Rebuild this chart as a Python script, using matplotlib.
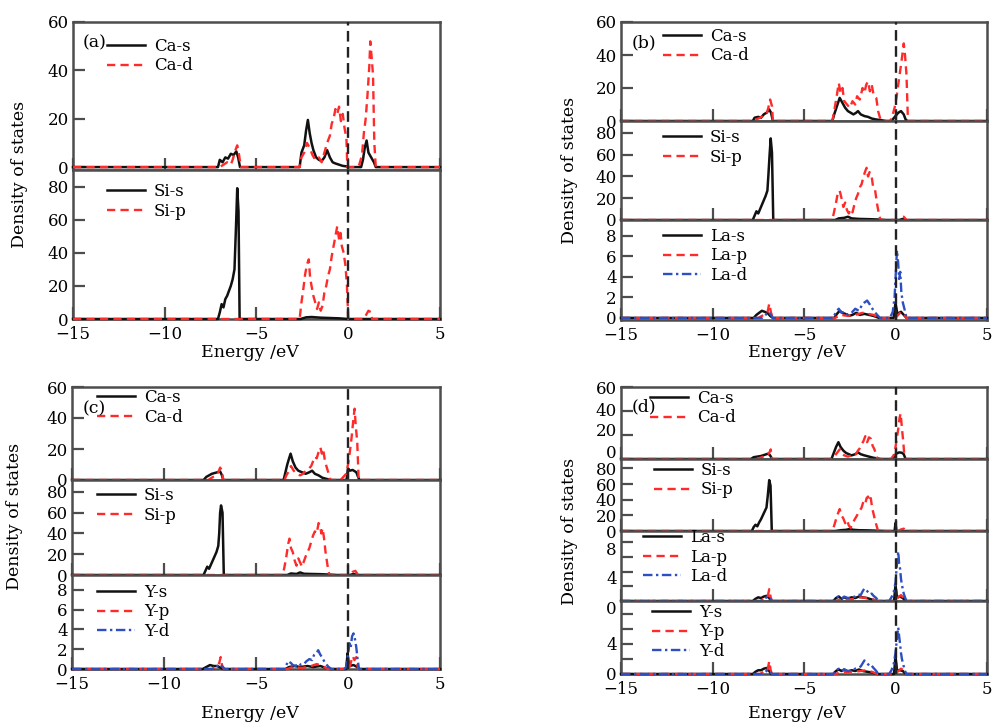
import matplotlib
matplotlib.use("Agg")
import matplotlib.pyplot as plt
from matplotlib.transforms import ScaledTranslation

plt.rcParams["font.family"] = ["DejaVu Serif"]
plt.rcParams["font.size"] = 12

W, H = 994, 724

# ---- (a) CaSi2 ----
a_ca_s = [(-15,0),(-7.1,0),(-7.0,3),(-6.85,2),(-6.7,4),(-6.55,3.5),(-6.4,5.5),(-6.25,5),(-6.1,6.5),(-6.0,4),(-5.9,0),
          (-2.65,0),(-2.55,6),(-2.4,9),(-2.3,15),(-2.2,19.5),(-2.1,14),(-2.0,10),(-1.9,7),(-1.75,4),(-1.6,3),(-1.45,2.5),
          (-1.3,4),(-1.15,7),(-1.0,4),(-0.85,2),(-0.7,1.5),(-0.5,1),(-0.3,0.5),(-0.1,0.3),(0,0),
          (0.7,0),(0.8,3),(0.9,8),(1.0,11),(1.1,6),(1.25,4),(1.4,2),(1.5,0),(5,0)]
a_ca_d = [(-15,0),(-7.0,0),(-6.8,1),(-6.6,2),(-6.4,1),(-6.3,3),(-6.15,7),(-6.05,9),(-5.95,5),(-5.85,0),
          (-2.65,0),(-2.55,4),(-2.4,6),(-2.25,10),(-2.1,8),(-1.95,5),(-1.8,3),(-1.6,4),(-1.45,2),(-1.3,6),(-1.15,10),
          (-1.0,13),(-0.9,18),(-0.8,20),(-0.7,24),(-0.6,22),(-0.5,25),(-0.4,19),(-0.3,22),(-0.2,16),(-0.1,12),(-0.05,0),
          (0.5,0),(0.6,1),(0.75,5),(0.85,14),(0.95,20),(1.05,30),(1.15,42),(1.2,52),(1.28,45),(1.35,38),(1.42,10),(1.5,0),(5,0)]
a_si_s = [(-15,0),(-7.1,0),(-7.0,4),(-6.9,9),(-6.8,7),(-6.7,12),(-6.6,14),(-6.5,17),(-6.4,20),(-6.3,24),(-6.2,30),
          (-6.12,55),(-6.05,79),(-5.98,65),(-5.92,0),(-2.6,0),(-2.3,1),(-2.0,1.2),(-1.5,0.8),(-1.0,0.6),(-0.5,0.4),(0,0),(5,0)]
a_si_p = [(-15,0),(-2.65,0),(-2.55,10),(-2.45,18),(-2.35,27),(-2.25,33),(-2.15,36),(-2.08,25),(-2.0,20),(-1.9,14),
          (-1.8,10),(-1.7,6),(-1.6,10),(-1.5,5),(-1.4,8),(-1.3,16),(-1.2,20),(-1.1,26),(-1.0,30),(-0.9,38),(-0.8,44),
          (-0.7,50),(-0.6,56),(-0.5,48),(-0.42,52),(-0.35,44),(-0.25,40),(-0.15,32),(-0.07,20),(0,0),
          (0.85,0),(0.95,2),(1.1,5),(1.25,4),(1.3,0),(5,0)]

# ---- (b) La doped ----
b_ca_s = [(-15,0),(-7.8,0),(-7.7,2),(-7.5,2.5),(-7.35,2),(-7.2,4),(-7.05,5),(-6.9,7),(-6.8,5),(-6.7,0),
          (-3.45,0),(-3.35,4),(-3.2,9),(-3.05,14),(-2.9,11),(-2.75,8),(-2.6,6),(-2.45,5),(-2.3,4),(-2.15,5),(-2.05,6),
          (-1.9,4),(-1.7,3),(-1.5,2.5),(-1.3,1.5),(-1.1,1),(-0.8,0.5),(-0.5,0),(-0.3,0),(-0.15,1),(0.0,3),(0.15,5),
          (0.3,6),(0.45,4),(0.55,1),(0.65,0),(5,0)]
b_ca_d = [(-15,0),(-7.8,0),(-7.6,1),(-7.4,2),(-7.2,3.5),(-7.05,4),(-6.95,8),(-6.85,13),(-6.75,9),(-6.7,0),
          (-3.45,0),(-3.35,6),(-3.2,16),(-3.1,23),(-3.0,17),(-2.9,20),(-2.8,12),(-2.65,10),(-2.5,8),(-2.35,12),(-2.2,10),
          (-2.1,15),(-1.95,13),(-1.8,20),(-1.7,17),(-1.6,22),(-1.5,24),(-1.4,18),(-1.3,22),(-1.2,16),(-1.05,14),
          (-0.95,6),(-0.85,2),(-0.75,0),(-0.3,0),(-0.2,2),(-0.05,8),(0.05,14),(0.15,22),(0.25,30),(0.35,38),
          (0.45,47),(0.52,40),(0.6,28),(0.68,0),(5,0)]
b_si_s = [(-15,0),(-7.8,0),(-7.7,4),(-7.6,8),(-7.5,6),(-7.4,10),(-7.3,14),(-7.2,18),(-7.1,22),(-7.0,27),(-6.95,40),
          (-6.88,60),(-6.82,75),(-6.75,62),(-6.68,0),(-3.3,0),(-3.1,1.5),(-2.8,2),(-2.6,3),(-2.4,1.5),(-2.0,1),
          (-1.5,0.8),(-1.0,0.5),(-0.5,0),(0.2,0),(0.4,1),(0.6,0),(5,0)]
b_si_p = [(-15,0),(-3.45,0),(-3.35,8),(-3.25,16),(-3.15,25),(-3.05,27),(-2.95,20),(-2.85,12),(-2.75,16),(-2.65,9),
          (-2.55,6),(-2.45,10),(-2.35,7),(-2.25,14),(-2.15,20),(-2.05,24),(-1.95,30),(-1.85,33),(-1.75,40),(-1.65,45),
          (-1.58,48),(-1.5,40),(-1.42,44),(-1.32,42),(-1.22,30),(-1.12,28),(-1.0,14),(-0.9,5),(-0.82,0),
          (0.15,0),(0.3,2),(0.45,3),(0.6,0),(5,0)]
b_la_s = [(-15,0),(-7.75,0),(-7.6,0.3),(-7.45,0.5),(-7.3,0.7),(-7.15,0.6),(-7.0,0.5),(-6.85,0.2),(-6.7,0),
          (-3.35,0),(-3.2,0.4),(-3.05,0.7),(-2.9,0.5),(-2.75,0.4),(-2.55,0.2),(-2.35,0.3),(-2.15,0.5),(-1.95,0.3),
          (-1.7,0.4),(-1.45,0.3),(-1.2,0.2),(-0.9,0),(-0.1,0),(0,1.5),(0.1,0.4),(0.3,0.6),(0.45,0.3),(0.6,0),(5,0)]
b_la_p = [(-15,0),(-7.5,0),(-7.2,0.3),(-7.0,0.5),(-6.9,1.4),(-6.8,0.5),(-6.7,0),(-3.3,0),(-3.0,0.3),(-2.6,0.2),
          (-2.2,0.3),(-1.8,0.5),(-1.5,0.4),(-1.2,0.3),(-0.9,0),(0,0),(0.15,0.3),(0.3,0.6),(0.45,0.4),(0.6,0),(5,0)]
b_la_d = [(-15,0),(-7.3,0),(-7.1,0.3),(-6.95,0.6),(-6.8,0.3),(-6.7,0),(-3.4,0),(-3.25,0.6),(-3.1,0.9),(-2.95,0.5),
          (-2.8,0.6),(-2.6,0.3),(-2.4,0.5),(-2.2,0.9),(-2.0,0.7),(-1.85,1.2),(-1.7,1.5),(-1.55,1.7),(-1.4,1.3),
          (-1.3,1.0),(-1.15,0.6),(-1.0,0.3),(-0.85,0),(-0.3,0),(-0.15,0.6),(-0.05,2),(0.02,4.5),(0.08,6.6),
          (0.14,5.5),(0.2,3.8),(0.26,4.5),(0.32,2.5),(0.4,1.5),(0.5,0.8),(0.6,0),(5,0)]

# ---- (c) Y doped ----
c_ca_s = [(-15,0),(-7.85,0),(-7.7,2),(-7.55,3),(-7.4,4),(-7.25,4.5),(-7.1,5),(-6.95,5.5),(-6.85,3),(-6.78,0),
          (-3.5,0),(-3.4,5),(-3.3,10),(-3.2,14),(-3.12,17),(-3.0,12),(-2.85,8),(-2.7,6),(-2.5,5),(-2.3,4),(-2.1,5),
          (-1.95,6),(-1.8,4),(-1.6,3),(-1.4,1.5),(-1.2,0.8),(-1.0,0.3),(-0.85,0),(-0.08,0),(0.0,7.5),(0.1,6),
          (0.25,6.5),(0.45,5),(0.55,2),(0.62,0),(5,0)]
c_ca_d = [(-15,0),(-7.6,0),(-7.4,1.5),(-7.2,3),(-7.05,5),(-6.95,8),(-6.85,6),(-6.78,0),(-3.45,0),(-3.35,3),(-3.2,6),
          (-3.1,9),(-2.95,6),(-2.8,4),(-2.6,3),(-2.45,4),(-2.3,6),(-2.15,7),(-2.0,9),(-1.9,12),(-1.8,15),(-1.7,14),
          (-1.6,18),(-1.5,21),(-1.42,17),(-1.35,20),(-1.25,12),(-1.15,8),(-1.05,4),(-0.98,0),(-0.4,0),(-0.25,2),
          (-0.1,4),(0.0,10),(0.1,18),(0.2,28),(0.3,40),(0.36,46),(0.42,35),(0.5,25),(0.58,0),(5,0)]
c_si_s = [(-15,0),(-7.85,0),(-7.75,4),(-7.65,8),(-7.55,6),(-7.45,10),(-7.35,14),(-7.25,18),(-7.15,22),(-7.05,28),
          (-7.0,40),(-6.95,60),(-6.9,67),(-6.82,60),(-6.75,0),(-3.3,0),(-3.1,1.5),(-2.8,1),(-2.6,2.5),(-2.4,1.2),
          (-2.0,1),(-1.5,0.8),(-1.0,0.4),(-0.6,0),(0.1,0),(0.3,1),(0.5,0),(5,0)]
c_si_p = [(-15,0),(-3.55,0),(-3.45,8),(-3.35,18),(-3.25,30),(-3.18,35),(-3.1,26),(-3.0,22),(-2.9,14),(-2.8,9),
          (-2.7,16),(-2.6,12),(-2.5,8),(-2.4,13),(-2.3,18),(-2.2,22),(-2.1,26),(-2.0,32),(-1.9,38),(-1.8,42),
          (-1.7,40),(-1.6,50),(-1.52,48),(-1.45,40),(-1.38,45),(-1.3,35),(-1.22,22),(-1.12,10),(-1.05,3),(-1.0,0),
          (0.1,0),(0.25,3),(0.4,4),(0.55,0),(5,0)]
c_y_s = [(-15,0),(-7.9,0),(-7.7,0.2),(-7.5,0.4),(-7.3,0.3),(-7.1,0.3),(-6.9,0.1),(-6.8,0),(-3.4,0),(-3.2,0.2),
         (-2.9,0.3),(-2.6,0.2),(-2.2,0.3),(-1.9,0.2),(-1.5,0.3),(-1.2,0.1),(-1.0,0),(-0.1,0),(-0.02,1.6),
         (0.05,0.3),(0.3,0.4),(0.5,0.2),(0.6,0),(5,0)]
c_y_p = [(-15,0),(-7.4,0),(-7.15,0.3),(-7.0,0.6),(-6.92,1.2),(-6.85,0.4),(-6.75,0),(-3.3,0),(-3.0,0.2),(-2.5,0.1),
         (-2.0,0.3),(-1.7,0.5),(-1.4,0.3),(-1.1,0),(0.05,0),(0.15,0.6),(0.25,1.3),(0.35,0.9),(0.45,1.2),(0.55,0),(5,0)]
c_y_d = [(-15,0),(-7.3,0),(-7.1,0.3),(-6.95,0.5),(-6.8,0.2),(-6.7,0),(-3.45,0),(-3.35,0.4),(-3.25,0.8),(-3.1,0.6),
         (-3.0,0.4),(-2.85,0.3),(-2.7,0.6),(-2.55,0.4),(-2.4,0.5),(-2.25,0.8),(-2.1,1.0),(-1.95,0.9),(-1.85,1.4),
         (-1.72,1.6),(-1.62,1.9),(-1.52,1.5),(-1.42,1.2),(-1.3,0.8),(-1.2,0.5),(-1.05,0.2),(-0.9,0),(-0.2,0),
         (-0.1,0.2),(0.0,1.5),(0.08,2.6),(0.15,2.2),(0.22,3.3),(0.3,3.6),(0.38,3.0),(0.45,2.2),(0.52,1.0),(0.6,0),(5,0)]

# ---- (d) La + Y co-doped ----
d_ca_s = [(-15,0),(-7.9,0),(-7.75,1.5),(-7.55,2),(-7.35,2.5),(-7.15,3.5),(-6.95,4.5),(-6.85,3),(-6.75,0),
          (-3.5,0),(-3.4,4),(-3.25,10),(-3.12,14),(-3.0,10),(-2.85,7),(-2.7,5),(-2.55,4),(-2.4,3),(-2.2,4),
          (-2.05,5.5),(-1.9,4),(-1.7,3),(-1.45,2),(-1.2,1),(-0.95,0.4),(-0.8,0),(-0.15,0),(-0.05,3),(0.05,4.5),
          (0.2,5.5),(0.35,5.2),(0.45,4),(0.55,0),(5,0)]
d_ca_d = [(-15,0),(-7.6,0),(-7.4,1),(-7.2,2),(-7.0,3),(-6.9,5),(-6.82,8),(-6.75,0),(-3.45,0),(-3.3,3),(-3.15,6),
          (-3.05,8),(-2.95,5),(-2.8,3),(-2.6,2),(-2.4,3),(-2.2,3),(-2.05,7),(-1.95,9),(-1.85,12),(-1.75,15),
          (-1.65,19),(-1.55,14),(-1.45,18),(-1.35,17),(-1.25,11),(-1.15,8),(-1.05,3),(-0.98,0),(-0.25,0),(-0.1,3),
          (0.0,10),(0.08,18),(0.15,25),(0.22,34),(0.28,38),(0.35,26),(0.42,15),(0.5,0),(5,0)]
d_si_s = [(-15,0),(-7.85,0),(-7.75,5),(-7.65,8),(-7.55,6),(-7.45,11),(-7.35,15),(-7.25,20),(-7.15,25),(-7.05,30),
          (-6.98,45),(-6.9,65),(-6.83,58),(-6.76,0),(-3.3,0),(-3.0,1),(-2.7,1.5),(-2.5,2.5),(-2.3,1.5),(-2.0,1),
          (-1.5,0.8),(-1.0,0.4),(-0.5,0),(-0.05,0),(0.0,10),(0.05,0),(5,0)]
d_si_p = [(-15,0),(-3.45,0),(-3.35,7),(-3.25,15),(-3.15,22),(-3.05,28),(-2.95,20),(-2.85,16),(-2.75,10),(-2.65,14),
          (-2.55,7),(-2.45,4),(-2.35,9),(-2.25,14),(-2.15,18),(-2.05,22),(-1.95,26),(-1.85,30),(-1.75,38),(-1.65,35),
          (-1.58,42),(-1.5,44),(-1.42,38),(-1.35,42),(-1.28,30),(-1.2,22),(-1.1,12),(-1.0,4),(-0.95,0),
          (0.15,0),(0.3,2),(0.45,3),(0.55,0),(5,0)]
d_la_s = [(-15,0),(-7.8,0),(-7.65,0.3),(-7.5,0.5),(-7.35,0.4),(-7.2,0.6),(-7.05,0.7),(-6.9,0.4),(-6.8,0),
          (-3.4,0),(-3.25,0.4),(-3.1,0.6),(-2.95,0.3),(-2.8,0.5),(-2.6,0.3),(-2.4,0.5),(-2.2,0.4),(-2.0,0.6),
          (-1.8,0.5),(-1.55,0.4),(-1.3,0.2),(-1.0,0),(-0.08,0),(0.0,2.2),(0.08,0.5),(0.25,0.6),(0.4,0.4),(0.55,0),(5,0)]
d_la_p = [(-15,0),(-7.4,0),(-7.2,0.3),(-7.0,0.4),(-6.9,1.6),(-6.82,0.5),(-6.75,0),(-3.3,0),(-3.0,0.2),(-2.6,0.2),
          (-2.2,0.3),(-1.9,0.5),(-1.6,0.4),(-1.3,0.3),(-1.0,0),(0.0,0),(0.15,0.5),(0.3,0.8),(0.45,0.4),(0.55,0),(5,0)]
d_la_d = [(-15,0),(-7.3,0),(-7.15,0.3),(-7.0,0.6),(-6.85,0.3),(-6.75,0),(-3.4,0),(-3.25,0.5),(-3.1,0.6),(-2.95,0.3),
          (-2.8,0.6),(-2.6,0.4),(-2.4,0.5),(-2.2,0.6),(-2.05,0.9),(-1.9,0.8),(-1.8,1.3),(-1.7,1.7),(-1.6,1.5),
          (-1.5,1.2),(-1.4,0.9),(-1.3,1.0),(-1.2,0.7),(-1.05,0.4),(-0.95,0),(-0.35,0),(-0.22,0.5),(-0.1,1.2),
          (0.0,2.5),(0.05,4.2),(0.1,5.5),(0.15,6.7),(0.2,5.0),(0.25,4.4),(0.3,3.0),(0.35,2.2),(0.45,1.0),
          (0.52,0.5),(0.6,0),(5,0)]
d_y_s = [(-15,0),(-7.8,0),(-7.65,0.3),(-7.5,0.5),(-7.35,0.5),(-7.2,0.7),(-7.05,0.8),(-6.9,0.4),(-6.8,0),
         (-3.4,0),(-3.25,0.4),(-3.1,0.6),(-2.95,0.4),(-2.8,0.6),(-2.6,0.3),(-2.4,0.5),(-2.2,0.4),(-2.0,0.6),
         (-1.8,0.4),(-1.55,0.3),(-1.3,0.2),(-1.0,0),(-0.08,0),(0.0,2.4),(0.08,0.5),(0.25,0.5),(0.4,0.4),(0.55,0),(5,0)]
d_y_p = [(-15,0),(-7.4,0),(-7.2,0.3),(-7.0,0.4),(-6.9,1.7),(-6.82,0.5),(-6.75,0),(-3.3,0),(-3.0,0.2),(-2.6,0.3),
         (-2.2,0.3),(-1.9,0.4),(-1.6,0.5),(-1.3,0.3),(-1.0,0),(0.0,0),(0.15,0.4),(0.3,0.7),(0.45,0.5),(0.55,0),(5,0)]
d_y_d = [(-15,0),(-7.3,0),(-7.15,0.2),(-7.0,0.5),(-6.85,0.3),(-6.75,0),(-3.4,0),(-3.25,0.5),(-3.1,0.7),(-2.95,0.4),
         (-2.8,0.6),(-2.6,0.4),(-2.4,0.5),(-2.2,0.7),(-2.05,0.8),(-1.9,1.0),(-1.8,1.4),(-1.7,1.8),(-1.6,1.6),
         (-1.5,1.3),(-1.4,1.0),(-1.3,1.1),(-1.2,0.8),(-1.05,0.4),(-0.95,0),(-0.35,0),(-0.22,0.5),(-0.1,1.3),
         (0.0,2.8),(0.05,4.0),(0.1,5.2),(0.15,6.2),(0.2,5.0),(0.25,4.0),(0.3,2.8),(0.35,2.0),(0.45,1.0),
         (0.52,0.4),(0.6,0),(5,0)]

x_ticks = [-15, -10, -5, 0, 5]
ca_ticks = [0, 20, 40, 60]
si_ticks = [0, 20, 40, 60, 80]
rm_ticks = [0, 2, 4, 6, 8]

BLACK = "#111111"
RED = "#ff2b2b"
BLUE = "#2c4fc2"
FRAME = "#4d4d4d"
STYLES = [dict(color=BLACK, ls="-", lw=1.8),
          dict(color=RED, ls=(0, (3.5, 2.2)), lw=1.7),
          dict(color=BLUE, ls=(0, (4, 1.5, 1, 1.5)), lw=1.7)]

fig = plt.figure(figsize=(W / 100, H / 100), dpi=100)


def add_ax(left, top, right, bottom):
    return fig.add_axes([left / W, 1 - bottom / H, (right - left) / W, (bottom - top) / H])


def sub(box, curves, labels, ylim, yticks, leg_xy, ytl=None, bottom=False):
    ax = add_ax(*box)
    for i, (pts, lab) in enumerate(zip(curves, labels)):
        ax.plot([p[0] for p in pts], [p[1] for p in pts], label=lab,
                clip_on=False, zorder=3 + i, **STYLES[i])
    ax.axvline(0, color="#222222", lw=1.7, dashes=(4.5, 2.3), zorder=6)
    ax.set_xlim(-15, 5)
    ax.set_ylim(*ylim)
    ax.set_xticks(x_ticks)
    ax.set_yticks(yticks)
    if ytl is not None:
        ax.set_yticklabels(ytl)
    ax.tick_params(direction="in", length=8.5, width=1.6, color=FRAME,
                   top=False, right=False, pad=3, labelsize=12)
    ax.tick_params(axis="x", labelbottom=bottom, pad=5)
    for s in ax.spines.values():
        s.set_color(FRAME)
        s.set_linewidth(1.8)
    ax.legend(loc="upper left", bbox_to_anchor=(leg_xy[0] / W, 1 - leg_xy[1] / H),
              bbox_transform=fig.transFigure, frameon=False, borderpad=0,
              borderaxespad=0, handlelength=2.3, handletextpad=0.5,
              labelspacing=0.15, fontsize=12)
    return ax


def shift_labels(ax, dys):
    # move y tick labels by a few pixels (up is positive)
    for lab, dy in zip(ax.get_yticklabels(), dys):
        lab.set_transform(lab.get_transform() +
                          ScaledTranslation(0, dy / 100, fig.dpi_scale_trans))


# (a)
sub((73, 22, 440, 170), [a_ca_s, a_ca_d], ["Ca-s", "Ca-d"], (-1.2, 60), ca_ticks, (107, 38))
sub((73, 170, 440, 319), [a_si_s, a_si_p], ["Si-s", "Si-p"], (0, 90), si_ticks, (107, 183), bottom=True)

# (b)
sub((621, 22, 987, 121), [b_ca_s, b_ca_d], ["Ca-s", "Ca-d"], (0, 60), ca_ticks, (663, 28))
sub((621, 121, 987, 220), [b_si_s, b_si_p], ["Si-s", "Si-p"], (0, 91), si_ticks, (663, 129))
sub((621, 220, 987, 320), [b_la_s, b_la_p, b_la_d], ["La-s", "La-p", "La-d"], (-0.2, 9.56),
    rm_ticks, (663, 228), bottom=True)

# (c)
sub((72, 387, 440, 480), [c_ca_s, c_ca_d], ["Ca-s", "Ca-d"], (0, 60), ca_ticks, (97, 389))
sub((72, 480, 440, 575), [c_si_s, c_si_p], ["Si-s", "Si-p"], (0, 91.5), si_ticks, (97, 487))
sub((72, 575, 440, 669), [c_y_s, c_y_p, c_y_d], ["Y-s", "Y-p", "Y-d"], (0, 9.5),
    rm_ticks, (97, 584), bottom=True)

# (d)
ax_dca = sub((621, 387, 987, 459), [d_ca_s, d_ca_d], ["Ca-s", "Ca-d"], (0, 60), ca_ticks, (650, 390))
sub((621, 459, 987, 531), [d_si_s, d_si_p], ["Si-s", "Si-p"], (0, 92), si_ticks, (654, 462))
ax_dla = sub((621, 531, 987, 601), [d_la_s, d_la_p, d_la_d], ["La-s", "La-p", "La-d"], (0, 9.5),
             rm_ticks, (643, 529), ytl=["0", "", "4", "", "8"])
sub((621, 601, 987, 674), [d_y_s, d_y_p, d_y_d], ["Y-s", "Y-p", "Y-d"], (0, 9.7),
    rm_ticks, (652, 604), ytl=["0", "", "4", "", ""], bottom=True)
shift_labels(ax_dca, [8, 5, 2, 0])
shift_labels(ax_dla, [-6, 0, -6, 0, -6])

# panel tags, axis titles
for tag, x, y in [("(a)", 83, 43), ("(b)", 632, 43), ("(c)", 83, 409), ("(d)", 632, 407)]:
    fig.text(x / W, 1 - y / H, tag, ha="left", va="center", fontsize=12.5)
for x, y in [(20, 174), (570, 170), (15, 516), (570, 531)]:
    fig.text(x / W, 1 - y / H, "Density of states", rotation=90, ha="center", va="center", fontsize=12.5)
for x, y in [(250, 353), (797, 353), (250, 713), (797, 713)]:
    fig.text(x / W, 1 - y / H, "Energy /eV", ha="center", va="center", fontsize=12.5)

fig.savefig("out.png", dpi=100)
